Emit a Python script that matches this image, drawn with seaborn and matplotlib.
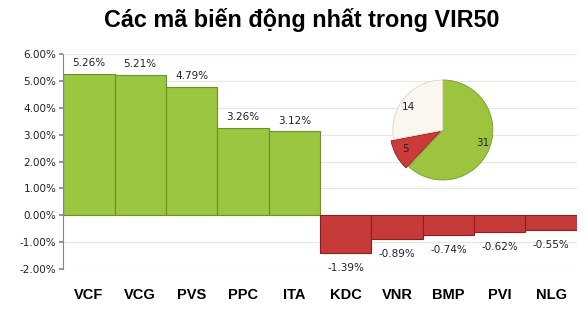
import matplotlib
matplotlib.use("Agg")
import matplotlib.pyplot as plt
import seaborn as sns
import pandas as pd

categories = ["VCF", "VCG", "PVS", "PPC", "ITA", "KDC", "VNR", "BMP", "PVI", "NLG"]
changes = [5.26, 5.21, 4.79, 3.26, 3.12, -1.39, -0.89, -0.74, -0.62, -0.55]
pie_values = [31, 5, 14]
pie_colors = ["#9cc43f", "#cc3b3b", "#fbf6ef"]
title = "Các mã biến động nhất trong VIR50"
yticks = [-2, -1, 0, 1, 2, 3, 4, 5, 6]

sns.set_theme(style="white")
plt.rcParams['font.family'] = ['DejaVu Sans']

df = pd.DataFrame({"code": categories, "change": changes})
df["sign"] = ["up" if v >= 0 else "down" for v in changes]

fig = plt.figure(figsize=(5.85, 3.11), dpi=100)
ax = fig.add_axes([0.108, 0.135, 0.878, 0.691])

sns.barplot(data=df, x="code", y="change", hue="sign",
            palette={"up": "#9ac640", "down": "#c73a3a"}, saturation=1,
            width=1.0, dodge=False, legend=False, ax=ax,
            edgecolor="#6e8f22", linewidth=0.8)
for p, v in zip(ax.patches, changes):
    if v < 0:
        p.set_edgecolor("#8a2020")

ax.set_ylim(-2, 6)
ax.set_xlim(-0.5, len(categories) - 0.5)
ax.set_yticks(yticks)
ax.set_yticklabels([f"{t:.2f}%" for t in yticks], fontsize=7.5, color="#222222")
for t in yticks:
    ax.axhline(t, color="#ece6da", lw=0.8, zorder=0)
ax.set_xlabel("")
ax.set_ylabel("")
ax.tick_params(axis="x", length=0, pad=14)
ax.tick_params(axis="y", length=3, left=True, color="#888888", pad=2)
for lab in ax.get_xticklabels():
    lab.set_fontweight("bold")
    lab.set_fontsize(10.5)
    lab.set_fontfamily("Liberation Sans")
    lab.set_color("black")
for s in ["top", "right", "bottom"]:
    ax.spines[s].set_visible(False)
ax.spines["left"].set_color("#888888")
ax.spines["left"].set_linewidth(0.8)

for i, v in enumerate(changes):
    if v >= 0:
        ax.text(i, v + 0.22, f"{v:.2f}%", ha="center", va="bottom", fontsize=7.5, color="#222222")
    else:
        ax.text(i, v - 0.38, f"{v:.2f}%", ha="center", va="top", fontsize=7.5, color="#222222")

fig.text(0.516, 0.936, title, fontsize=16.8, fontweight="bold", ha="center", va="center",
         color="black", family="Liberation Sans")

pax = fig.add_axes([0.650, 0.381, 0.214, 0.402])
wedges, texts = pax.pie(pie_values, colors=pie_colors, startangle=90, counterclock=False,
                        explode=[0, 0.06, 0], labels=[str(v) for v in pie_values],
                        labeldistance=0.72, textprops={"fontsize": 7.5, "color": "#222222"},
                        wedgeprops={"edgecolor": "#dcd6c8", "linewidth": 0.6})
wedges[0].set_edgecolor("#7a9a2a")
wedges[1].set_edgecolor("#8a2020")
pax.set_aspect("equal")

fig.savefig("out.png", dpi=100)
